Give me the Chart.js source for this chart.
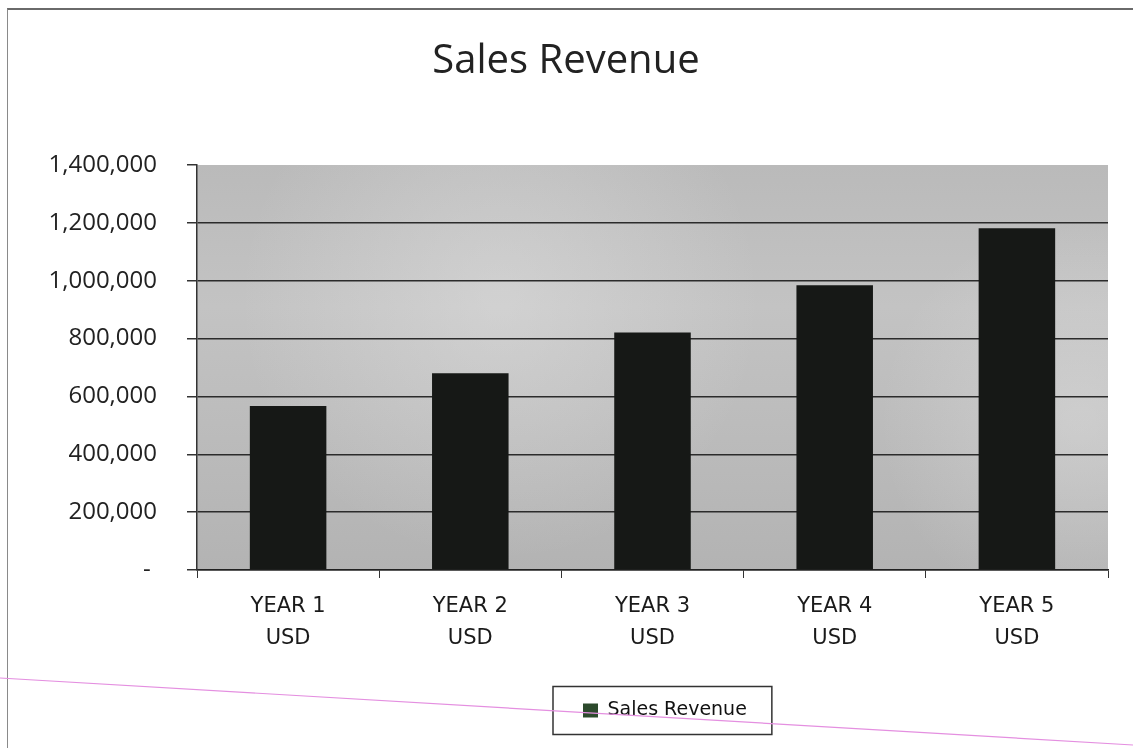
<!DOCTYPE html>
<html>
<head>
<meta charset="utf-8">
<title>Sales Revenue</title>
<script src="https://cdn.jsdelivr.net/npm/chart.js@4.4.1/dist/chart.umd.min.js"></script>
<style>
    html, body { margin: 0; padding: 0; background: #fff; }
    #wrap { position: relative; width: 1133px; height: 748px; overflow: hidden; }
    #frame {
        position: absolute; left: 7px; top: 8px; right: -10px; bottom: -10px;
        border-top: 2px solid #6a6a6a; border-left: 1.5px solid #8a8a8a;
        pointer-events: none;
    }
    #rule { position: absolute; left: 0; top: 0; pointer-events: none; }
</style>
</head>
<body>
<div id="wrap">
    <canvas id="chart"></canvas>
    <div id="frame"></div>
    <svg id="rule" width="1133" height="748">
        <line x1="0" y1="678" x2="1133" y2="745" stroke="#e48fe0" stroke-width="1.2"/>
    </svg>
</div>
<script>
// Daten
const years = [["YEAR 1", "USD"], ["YEAR 2", "USD"], ["YEAR 3", "USD"], ["YEAR 4", "USD"], ["YEAR 5", "USD"]];
const revenue = [567000, 680000, 821000, 984000, 1181000];
const seriesName = "Sales Revenue";
const yMax = 1400000;
const yStep = 200000;

const PLOT_LEFT = 197;   // Breite der Y-Achse
const PLOT_BOTTOM = 570; // Unterkante Diagrammfläche
const PAD_BOTTOM = 18;
const LEGEND_X = 583;    // Start des Legendeneintrags

let legendBox = null;

// grauer Hintergrund der Diagrammfläche + Rahmen um die Legende
const plotDecor = {
    id: "plotDecor",
    afterLayout: (chart) => {
        // Titel mittig über der ganzen Seite, Legende unter die Diagrammmitte schieben
        const t = chart.titleBlock;
        if (t) { t.left += 12; t.right += 12; }
        const lg = chart.legend;
        if (lg && lg.lineWidths && lg.lineWidths.length) {
            const pad = lg.options.labels.padding;
            const rowW = lg.lineWidths[0];
            const startX = (lg.left + pad + lg.right - rowW) / 2;
            const dx = LEGEND_X - startX;
            lg.left += dx;
            lg.right += dx;
            legendBox = { x: LEGEND_X, w: rowW - pad, cy: lg.top + lg.height / 2 };
        }
    },
    beforeDraw: (chart) => {
        const { ctx, chartArea: a } = chart;
        ctx.save();
        const g = ctx.createLinearGradient(a.left, a.top, a.left, a.bottom);
        g.addColorStop(0, "#bababa");
        g.addColorStop(0.35, "#c3c3c3");
        g.addColorStop(1, "#b3b3b3");
        ctx.fillStyle = g;
        ctx.fillRect(a.left, a.top, a.right - a.left, a.bottom - a.top);
        // etwas hellere Flecken
        const r1 = ctx.createRadialGradient(500, 300, 10, 500, 300, 260);
        r1.addColorStop(0, "rgba(235,235,235,0.35)");
        r1.addColorStop(1, "rgba(235,235,235,0)");
        ctx.fillStyle = r1;
        ctx.fillRect(a.left, a.top, a.right - a.left, a.bottom - a.top);
        const r2 = ctx.createRadialGradient(1080, 420, 10, 1080, 420, 200);
        r2.addColorStop(0, "rgba(235,235,235,0.35)");
        r2.addColorStop(1, "rgba(235,235,235,0)");
        ctx.fillStyle = r2;
        ctx.fillRect(a.left, a.top, a.right - a.left, a.bottom - a.top);
        ctx.restore();
    },
    afterDraw: (chart) => {
        if (!legendBox) return;
        const ctx = chart.ctx;
        ctx.save();
        ctx.strokeStyle = "#333";
        ctx.lineWidth = 1.5;
        ctx.strokeRect(legendBox.x - 30, legendBox.cy - 24, legendBox.w + 55, 48);
        ctx.restore();
    }
};

new Chart(document.getElementById("chart"), {
    type: "bar",
    data: {
        labels: years,
        datasets: [{
            label: seriesName,
            data: revenue,
            backgroundColor: "#161816",
            borderWidth: 0,
            categoryPercentage: 1,
            barPercentage: 0.42,
        }],
    },
    options: {
        responsive: true,
        maintainAspectRatio: false,
        animation: false,
        layout: { padding: { left: 0, right: 25, top: 0, bottom: PAD_BOTTOM } },
        plugins: {
            title: {
                display: true,
                text: seriesName,
                color: "#222",
                font: { family: "'Open Sans'", size: 40, weight: "normal", lineHeight: 1.2 },
                padding: { top: 38, bottom: 79 },
            },
            legend: {
                display: true,
                position: "bottom",
                labels: {
                    color: "#111",
                    font: { family: "'DejaVu Sans'", size: 19 },
                    boxWidth: 15,
                    boxHeight: 14,
                    padding: 10,
                    generateLabels: (chart) => {
                        const items = Chart.defaults.plugins.legend.labels.generateLabels(chart);
                        items.forEach(it => { it.fillStyle = "#2c4a2c"; it.strokeStyle = "#2c4a2c"; it.lineWidth = 0; });
                        return items;
                    },
                },
            },
            tooltip: { enabled: false },
        },
        scales: {
            x: {
                grid: {
                    offset: true,
                    drawOnChartArea: false,
                    drawTicks: true,
                    tickLength: 8,
                    tickColor: "#333",
                },
                border: { display: true, color: "#222", width: 1.5 },
                ticks: {
                    color: "#1a1a1a",
                    padding: 12,
                    font: { family: "'DejaVu Sans'", size: 21, lineHeight: 1.55 },
                    maxRotation: 0,
                },
                afterFit: (scale) => {
                    const lgH = scale.chart.legend ? scale.chart.legend.height : 0;
                    scale.height = scale.chart.height - PAD_BOTTOM - lgH - PLOT_BOTTOM;
                },
            },
            y: {
                min: 0,
                max: yMax,
                grid: {
                    color: (c) => (c.tick && c.tick.value === yMax ? "rgba(0,0,0,0)" : "#2b2b2b"),
                    lineWidth: 1.5,
                    tickLength: 10,
                    tickColor: "#333",
                },
                border: { display: true, color: "#333", width: 1.5 },
                ticks: {
                    stepSize: yStep,
                    padding: 30,
                    color: "#222",
                    font: { family: "'Open Sans'", size: 24 },
                    callback: (v) => (v === 0 ? "- " : v.toLocaleString("en-US")),
                },
                afterFit: (scale) => { scale.width = PLOT_LEFT; },
            },
        },
    },
    plugins: [plotDecor],
});
</script>
</body>
</html>
